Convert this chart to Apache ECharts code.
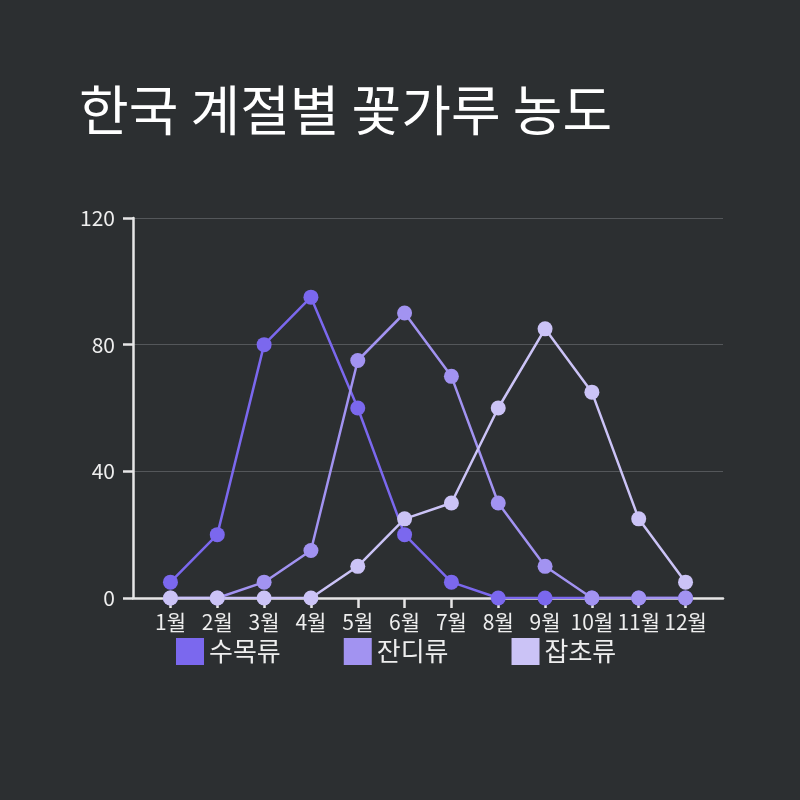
<!DOCTYPE html>
<html>
<head>
<meta charset="utf-8">
<script src="https://cdn.jsdelivr.net/npm/echarts@6/dist/echarts.min.js"></script>
<style>
  html, body { margin: 0; padding: 0; background: #2c2f31; }
  #chart { width: 800px; height: 800px; }
</style>
</head>
<body>
<div id="chart"></div>
<script>
// 월별 꽃가루 농도
var months = ['1월','2월','3월','4월','5월','6월','7월','8월','9월','10월','11월','12월'];
var seriesNames = ['수목류','잔디류','잡초류'];
var treeData  = [5, 20, 80, 95, 60, 20, 5, 0, 0, 0, 0, 0];
var grassData = [0, 0, 5, 15, 75, 90, 70, 30, 10, 0, 0, 0];
var weedData  = [0, 0, 0, 0, 10, 25, 30, 60, 85, 65, 25, 5];
var yTicks = [0, 40, 80, 120];

var colors = ['#7b68ee', '#a293f1', '#cbc3f6'];
var font = 'Noto Sans CJK KR';

function toPoints(arr){
    var pts = [];
    for(var i = 0;i<arr.length;i++){
        pts.push([i, arr[i]]);
    }
    return pts;
}
function makeSeries(name, arr, color){
    return {
        name: name,
        type: 'line',
        data: toPoints(arr),
        symbol: 'circle',
        symbolSize: 15,
        lineStyle: {color: color, width: 2.5},
        itemStyle: {color: color},
        emphasis: {disabled: true}
    };
}

var monthIdx = months.map(function(m, i){ return i; });

var chart = echarts.init(document.getElementById('chart'));
chart.setOption({
    backgroundColor: '#2c2f31',
    animation: false,
    title: {
        text: '한국 계절별 꽃가루 농도',
        left: 74,
        top: 78,
        textStyle: {color: '#ffffff', fontSize: 54, fontWeight: 'normal', fontFamily: font}
    },
    legend: {
        data: seriesNames,
        left: 171,
        top: 633,
        icon: 'rect',
        itemWidth: 28,
        itemHeight: 27,
        itemGap: 63,
        textStyle: {color: '#eeeeee', fontSize: 26, fontFamily: font}
    },
    grid: {left: 133, right: 77, top: 218, bottom: 202, containLabel: false},
    xAxis: {
        type: 'value',
        min: -0.8,
        max: 11.8,
        axisLine: {show: true, onZero: false, lineStyle: {color: '#e6e6e6', width: 2.5}},
        axisTick: {show: true, customValues: monthIdx, length: 10, lineStyle: {color: '#e6e6e6', width: 2.5}},
        axisLabel: {
            customValues: monthIdx,
            color: '#eeeeee', fontSize: 21, fontFamily: font, margin: 14,
            formatter: function(v){ return months[Math.round(v)]; }
        },
        splitLine: {show: false}
    },
    yAxis: {
        type: 'value',
        min: yTicks[0],
        max: yTicks[yTicks.length - 1],
        interval: 40,
        axisLine: {show: true, onZero: false, lineStyle: {color: '#e6e6e6', width: 2.5}},
        axisTick: {show: true, length: 10, lineStyle: {color: '#e6e6e6', width: 2.5}},
        axisLabel: {color: '#eeeeee', fontSize: 21, fontFamily: font, margin: 18},
        splitLine: {show: true, lineStyle: {color: '#54575a', width: 1}}
    },
    series: [
        makeSeries(seriesNames[0], treeData, colors[0]),
        makeSeries(seriesNames[1], grassData, colors[1]),
        makeSeries(seriesNames[2], weedData, colors[2])
    ]
});
</script>
</body>
</html>
